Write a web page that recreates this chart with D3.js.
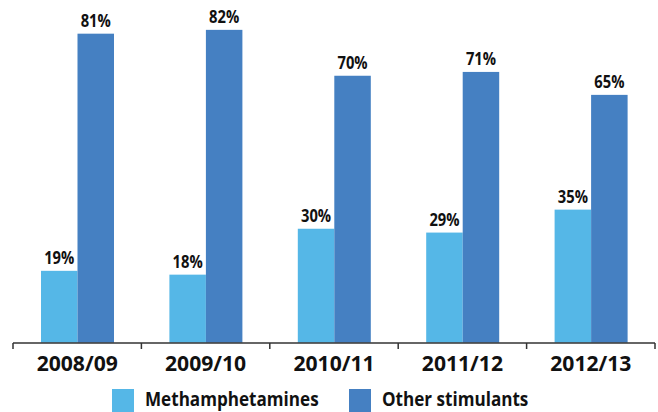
<!DOCTYPE html>
<html><head><meta charset="utf-8">
<script src="https://cdn.jsdelivr.net/npm/d3@7"></script>
<style>body{margin:0;background:#fff}svg{display:block}text{font-family:"Open Sans",sans-serif;font-weight:bold;fill:#111}</style>
</head><body><svg id="c" width="658" height="412"></svg>
<script>
const categories = ["2008/09","2009/10","2010/11","2011/12","2012/13"];
const seriesNames = ["Methamphetamines","Other stimulants"];
const meth = [19,18,30,29,35];
const other = [81,82,70,71,65];
const colors = ["#55b7e7","#4580c2"];

const svg = d3.select("#c");
const x = d3.scaleBand().domain(categories).range([13,655]).paddingInner(0).paddingOuter(0);
const x1 = d3.scaleBand().domain(seriesNames).range([28,101]);
const y = d3.scaleLinear().domain([0,100]).range([343.5,-39]);

const data = categories.map((c,i)=>({cat:c, vals:[meth[i],other[i]]}));
const g = svg.selectAll("g.cat").data(data).join("g").attr("transform",d=>`translate(${x(d.cat)},0)`);
const items = d=>d.vals.map((v,j)=>({v,s:seriesNames[j],j}));
g.selectAll("rect").data(items).join("rect")
 .attr("x",d=>x1(d.s)).attr("width",x1.bandwidth()).attr("y",d=>y(d.v)).attr("height",d=>y(0)-Math.max(y(d.v),0)-0.8)
 .attr("fill",d=>colors[d.j]);
g.selectAll("text.lbl").data(items).join("text").attr("class","lbl")
 .attr("transform",d=>`translate(${x1(d.s)+x1.bandwidth()/2},${y(d.v)-7}) scale(0.82,1)`)
 .attr("text-anchor","middle").style("font-size","18px").text(d=>d.v+"%");

const axis = d3.axisBottom(x).tickSize(0).tickPadding(0).tickFormat("");
const ax = svg.append("g").attr("transform","translate(0,343)").call(axis);
ax.select(".domain").attr("stroke","#333").attr("stroke-width",1.5).attr("d","M13,0H655");
const bounds = categories.map(c=>x(c)).concat([x.range()[1]]);
ax.selectAll("line.b").data(bounds).join("line").attr("class","b")
 .attr("x1",d=>d).attr("x2",d=>d).attr("y1",0).attr("y2",6).attr("stroke","#333").attr("stroke-width",1.5);
ax.selectAll("text.t").data(categories).join("text").attr("class","t")
 .attr("transform",d=>`translate(${x(d)+x.bandwidth()/2},28) scale(0.96,1)`)
 .attr("text-anchor","middle").style("font-size","22px").text(d=>d);

const leg = svg.append("g");
const legX = [112,349];
seriesNames.forEach((s,i)=>{
  leg.append("rect").attr("x",legX[i]).attr("y",389).attr("width",22).attr("height",23).attr("fill",colors[i]);
  leg.append("text").attr("transform",`translate(${legX[i]+33},406) scale(0.9,1)`).style("font-size","19px").text(s);
});
</script></body></html>
